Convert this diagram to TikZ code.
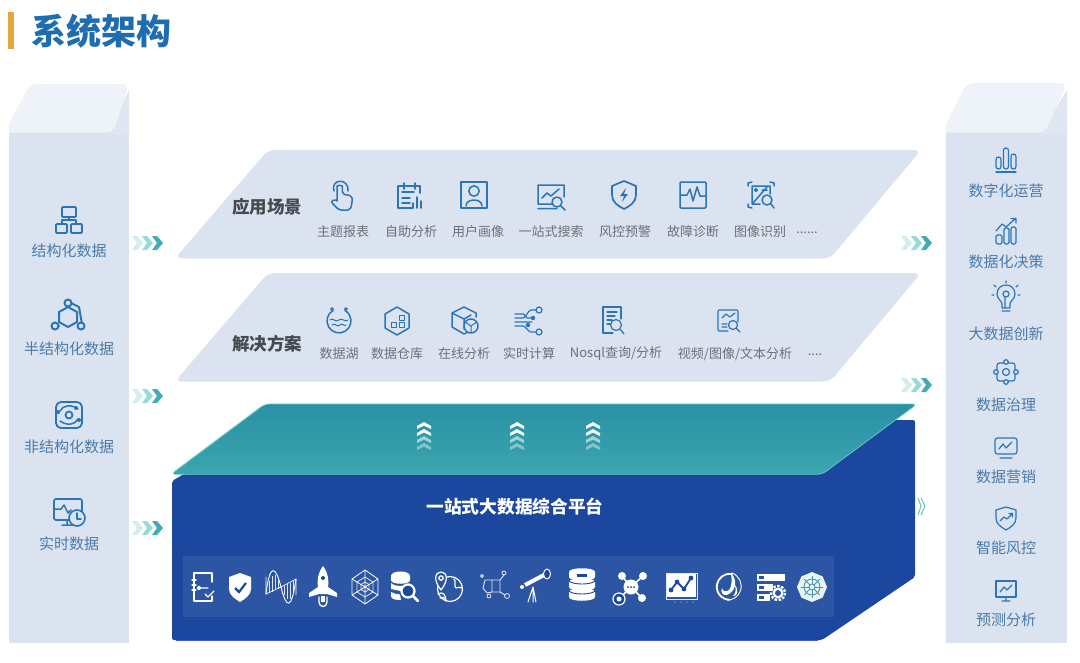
\documentclass[tikz,border=0pt]{standalone}
\usepackage{fontspec}
\setmainfont{Noto Sans CJK SC}
\usetikzlibrary{calc}
\definecolor{bandc}{HTML}{DBE3F0}
\definecolor{topc}{HTML}{EEF2F9}
\definecolor{sidec}{HTML}{E1E7F2}
\definecolor{icb}{HTML}{2A75B5}
\definecolor{colt}{HTML}{4A7BA8}
\definecolor{bandt}{HTML}{6B7178}
\definecolor{headt}{HTML}{454A50}
\definecolor{titlec}{HTML}{1F6DB1}
\definecolor{barc}{HTML}{E5A63F}
\definecolor{platc}{HTML}{1C479F}
\definecolor{stripc}{HTML}{2C55A3}
\definecolor{tealt}{HTML}{2A90A4}
\definecolor{tealb}{HTML}{3BA6AE}
\definecolor{teale}{HTML}{62C6C4}
\tikzset{
 icon/.style={draw=icb,line width=1.5pt,line cap=round,line join=round},
 wic/.style={draw=white,line width=1.3pt,line cap=round,line join=round},
 wthin/.style={draw=white,line width=.5pt,opacity=.85},
 col/.style={font=\fontsize{15}{15}\selectfont,text=colt,inner sep=0pt},
 bandl/.style={font=\fontsize{13}{13}\selectfont,text=bandt,inner sep=0pt},
 headl/.style={font=\fontsize{17.5}{17.5}\selectfont\bfseries,text=headt,inner sep=0pt},
 chev3/.pic={
  \fill[teale!30] (0,-7)--(5,-7)--(11,0)--(5,7)--(0,7)--(5,0)--cycle;
  \fill[teale!65] (10,-7)--(15,-7)--(21,0)--(15,7)--(10,7)--(15,0)--cycle;
  \fill[teale!20!tealb] (20,-7)--(25,-7)--(31,0)--(25,7)--(20,7)--(25,0)--cycle;},
 chevup/.pic={
  \foreach \yy/\op in {0/1,7/.95,14/.55,21/.4}
   \fill[white,opacity=\op] (-7,\yy+3)--(0,\yy-1)--(7,\yy+3)--(7,\yy+6)--(0,\yy+2.5)--(-7,\yy+6)--cycle;},
 % left
 lorg/.pic={\draw[icon,line width=1.8pt,rounded corners=1pt] (-7,-13) rectangle (7,-3) (-13,4) rectangle (-2,13) (2,4) rectangle (13,13);
  \draw[icon,line width=1.8pt] (0,-3)--(0,0) (-7,4)--(-7,0)--(7,0)--(7,4);},
 lhex/.pic={\draw[icon,line width=2pt] (0,-10)--(9,-5)--(9,5)--(0,10)--(-9,5)--(-9,-5)--cycle;
  \draw[icon,line width=2pt] (3,-14)--(11,-10)--(14,7) (-9,9)--(-13,9);
  \foreach \p in {(0,-14),(-13,9),(13,9)}\draw[icon,line width=2pt,fill=bandc] \p circle[radius=3.5];},
 latom/.pic={\draw[icon,line width=1.8pt,rounded corners=5pt] (-13,-13) rectangle (13,13);
  \draw[icon,line width=1.8pt] (0,0) circle[radius=3.5];
  \draw[icon] (-9,-4)..controls (-6,-10) and (2,-11)..(9,-6) (9,4)..controls (6,10) and (-2,11)..(-9,6);
  \fill[icb] (-11,-3) circle[radius=2] (7,-7) circle[radius=2] (10,5) circle[radius=2];},
 lmon/.pic={\draw[icon,line width=1.6pt,rounded corners=1.5pt] (-15,-13)--(13,-13)--(13,8)--(-15,8)--cycle;
  \draw[icon] (-15,-3)--(-8,-3)--(-5,-7)--(-1,1)--(2,-2) (-7,13)--(5,13) (-2,8)--(-2,13);
  \draw[icon,line width=1.6pt,fill=bandc] (8,6) circle[radius=8];
  \draw[icon] (8,1)--(8,7)--(12,7);},
 % row 1
 ihand/.pic={\draw[icon] (-8,-5)..controls (-12,-17) and (7,-19)..(6,-5);
  \draw[icon,rounded corners=2pt] (-5,5)--(-5,-8) arc(180:360:2.7)--(.4,-2)--(10,0)--(10,8)--(8,14)--(-3,14)--(-11,6)--(-8,3)--(-5,5);},
 ical/.pic={\draw[icon] (-12,-9)--(-12,13)--(3,13) (-12,-9)--(10,-9)--(10,-2) (-6,-12)--(-6,-6) (5,-12)--(5,-6) (-8,-3)--(4,-3) (-8,3)--(0,3) (-8,8)--(0,8) (3,13)--(3,8) (7,13)--(7,2) (11,13)--(11,6);},
 iuser/.pic={\draw[icon] (-13,-13) rectangle (13,13); \draw[icon] (0,-4) circle[radius=5.2];
  \draw[icon] (-8,11)..controls (-8,3) and (8,3)..(8,11);},
 iscr/.pic={\draw[icon] (-13,-11)--(13,-11)--(13,1) (7,8)--(-13,8)--(-13,-11) (-13,12.5)--(6,12.5) (-9,2)--(-4,-3)--(0,0)--(8,-7);
  \draw[icon,fill=bandc] (6,6) circle[radius=5]; \draw[icon] (10,10)--(14,14);},
 ishd/.pic={\draw[icon,line width=1.7pt] (0,-14)--(12,-9)--(12,0)..controls (12,7) and (6,11)..(0,14)..controls (-6,11) and (-12,7)..(-12,0)--(-12,-9)--cycle;
  \fill[icb] (2,-7)--(-4,1)--(0,1)--(-2,7)--(4,-1)--(0,-1)--cycle;},
 ipul/.pic={\draw[icon,rounded corners=1pt] (-13,-13) rectangle (13,13);
  \draw[icon] (-13,0)--(-6,0)--(-3,-6)--(0,6)--(4,-8)--(7,1)--(13,1);},
 iimg/.pic={\draw[icon] (-13,-9)--(-13,-12)--(-9,-13) (9,-13)--(13,-12)--(13,-9) (-13,9)--(-13,12)--(-9,13);
  \draw[icon] (-9,-9)--(9,-9)--(9,-1) (-1,9)--(-9,9)--(-9,-9) (-8,8)--(6,-8);
  \draw[icon] (-5,-5) circle[radius=1.3] (1,-5)--(6,-5);
  \draw[icon,fill=bandc] (6,5) circle[radius=5]; \draw[icon] (10,9)--(13,13);},
 % row 2
 ilake/.pic={\draw[icon] (-6,-10.5) arc(240:-60:12);
  \draw[icon,line width=1pt] (-9,-1)..controls (-6,-4) and (-4,2)..(0,-1)..controls (3,-4) and (6,2)..(9,-1) (-7,4)..controls (-4,1) and (-2,7)..(1,4)..controls (3,1) and (5,6)..(7,4);
  \draw[icon,line width=1pt] (-7,-12) circle[radius=1.4] (7,-12) circle[radius=1.4];},
 iwh/.pic={\draw[icon] (0,-14)--(12,-7)--(12,7)--(0,14)--(-12,7)--(-12,-7)--cycle;
  \draw[icon,line width=1pt] (-6,1) rectangle (-1,6) (2,1) rectangle (7,6) (2,-6) rectangle (7,-1);},
 icube/.pic={\draw[icon] (-1,-14)--(-13,-8)--(-13,6)--(-1,13)--(3,11) (-1,-14)--(11,-8)--(11,-4) (-13,-8)--(-1,-2)--(-1,8) (-1,-2)--(6,-6);
  \draw[icon,fill=bandc] (6,5) circle[radius=7]; \draw[icon,line width=1pt] (6,5)--(6,11) (6,5)--(1,1.5) (6,5)--(11,1.5);},
 iflow/.pic={\draw[icon,line width=1.2pt] (-13,-3)--(-5,-3) ..controls (-2,-3) and (0,-11)..(3,-11)--(8,-11) (-13,1)--(4,1) (-13,5)--(-5,5)..controls (-2,5) and (0,11)..(3,11)--(8,11) (-13,-7)--(-5,-7)..controls (-3,-7) and (-3,-3)..(0,-3)--(6,-3);
  \draw[icon,line width=1.2pt,fill=bandc] (11,-11) circle[radius=3] (11,11) circle[radius=3];
  \fill[icb] (5,-3) circle[radius=2.2] (0,4) circle[radius=2.2];},
 idoc/.pic={\draw[icon,line width=1.2pt] (8,-11)--(8,-14)--(-10,-14)--(-10,12)--(0,12) (8,-11)--(8,-2) (-6,-9)--(4,-9) (-6,-5)--(2,-5) (-6,-1)--(-1,-1) (-6,3)--(-3,3);
  \draw[icon,line width=1.2pt,fill=bandc] (3,4) circle[radius=5.5]; \draw[icon,line width=1.2pt] (7,8)--(11,13);},
 idoc2/.pic={\draw[icon,line width=1.2pt,rounded corners=1pt] (9,1)--(9,-11)--(-11,-11)--(-11,10)--(-1,10);
  \draw[icon,line width=1.2pt] (-7,-3)--(-3,-7)--(1,-4)--(6,-8) (-7,3)--(-2,3) (-7,6)--(-2,6);
  \draw[icon,line width=1.2pt,fill=bandc] (4,4) circle[radius=4.5]; \draw[icon,line width=1.2pt] (7,7)--(11,11);},
 % right
 rbars/.pic={\draw[icon,line width=1.2pt,rounded corners=2.5pt] (-10,9) rectangle (-5,-3) (-2.5,9) rectangle (2.5,-12) (5,9) rectangle (10,-6);
  \draw[icon,line width=1.2pt] (-10,12)--(10,12);},
 rgrow/.pic={\draw[icon,line width=1.2pt,rounded corners=1.5pt] (-10,13) rectangle (-4,4) (-2,13) rectangle (3,-3) (5,13) rectangle (10,-4);
  \draw[icon,line width=1.2pt] (-10,0)--(-4,-7)--(0,-4)--(9,-12) (5,-12.5)--(10,-12.5)--(10,-8);},
 rbulb/.pic={\draw[icon,line width=1.2pt] (-4,9)--(-4,5)..controls (-4,2) and (-9,0)..(-9,-5)..controls (-9,-17) and (9,-17)..(9,-5)..controls (9,0) and (4,2)..(4,5)--(4,9)--cycle (-4,12)--(4,12) (-1,-2)--(-1,9);
  \draw[icon,line width=1.2pt] (0,-5) circle[radius=3];
  \draw[icon,line width=1.2pt] (0,-16)--(0,-18) (-10,-12)--(-12,-14) (10,-12)--(12,-14) (-12,-4)--(-14,-4) (12,-4)--(14,-4);},
 rgear/.pic={\draw[icon,line width=1.2pt,rounded corners=2.5pt] (-9,-9) rectangle (9,9);
  \draw[icon,line width=1.2pt] (0,0) circle[radius=3.5];
  \draw[icon,line width=1.2pt,fill=bandc] (0,-10) circle[radius=2.3] (0,10) circle[radius=2.3] (-10,0) circle[radius=2.3] (10,0) circle[radius=2.3];},
 rmon/.pic={\draw[icon,line width=1.2pt,rounded corners=2.5pt] (-11,-9) rectangle (11,7);
  \draw[icon,line width=1.2pt] (-6,11)--(6,11) (-7,2)--(-3,-3)--(0,1)--(6,-5);},
 rshd/.pic={\draw[icon,line width=1.2pt] (0,-11)--(10,-8)--(10,0)..controls (10,6) and (5,9)..(0,12)..controls (-5,9) and (-10,6)..(-10,0)--(-10,-8)--cycle;
  \draw[icon,line width=1.2pt] (-6,3)--(-2,-1)--(1,1)--(6,-4) (3,-4.5)--(6.5,-4.5)--(6.5,-1);},
 rscr/.pic={\draw[icon,line width=1.3pt] (-10,-9) rectangle (10,7); \draw[icon,line width=1.3pt] (0,7)--(0,11) (-4,11)--(4,11) (-6,2)--(-2,-3)--(1,0)--(6,-5);},
 % bottom
 b1/.pic={\draw[wic] (9,-5)--(9,-14)--(-9,-14)--(-9,14)--(9,14)--(9,9) (-11,-7)--(-7,-7) (-11,-2)--(-7,-2) (-11,3)--(-7,3);
  \draw[wic] (-4,1) circle[radius=1.6] (-2,1)--(5,1) (2,7)--(5,10)--(11,4);},
 b2/.pic={\fill[white] (0,-14)--(11,-10)--(11,2)..controls (11,8) and (5,12)..(0,15)..controls (-5,12) and (-11,8)..(-11,2)--(-11,-10)--cycle;
  \draw[platc,line width=2.2pt] (-5,1)--(-1,5)--(6,-4);},
 b3/.pic={\draw[wic,line width=.9pt] (-15,7)..controls (-11,-26) and (-5,-20)..(0,0)..controls (5,20) and (10,26)..(15,-8);
  \draw[wic,line width=.7pt] (-15,7)--(0,0)--(15,-8) (-15,-10)--(-15,7) (15,-8)--(15,8);
  \foreach \xx/\yy in {-12/-6,-9/-11,-6/-12,-3/-7,3/8,6/12,9/12,12/6}\draw[wthin] (\xx,{\xx*-.5})--(\xx,\yy);},
 b4/.pic={\fill[white] (0,-21)..controls (5,-14) and (6,-8)..(5,0)--(14,6)--(14,10)--(4,7)--(-4,7)--(-14,10)--(-14,6)--(-5,0)..controls (-6,-8) and (-5,-14)..(0,-21)--cycle;
  \fill[platc] (0,-9) circle[radius=2];
  \draw[wic] (-4,10)--(-4,15)..controls (-4,21) and (4,21)..(4,15)--(4,10);
  \fill[white] (-2,9) rectangle (2,15);},
 b5/.pic={\draw[wic,line width=.8pt] (0,-17)--(13,-8)--(13,8)--(0,17)--(-13,8)--(-13,-8)--cycle (0,-17)--(0,17) (-13,-8)--(13,8) (13,-8)--(-13,8);
  \draw[wthin,line width=.8pt] (0,-10)--(8,-5)--(8,5)--(0,10)--(-8,5)--(-8,-5)--cycle (0,-5)--(4,-2.5)--(4,2.5)--(0,5)--(-4,2.5)--(-4,-2.5)--cycle;},
 b6/.pic={\fill[white] (-13,-11)..controls (-13,-17) and (6,-17)..(6,-11)--(6,-7)..controls (6,-2) and (-13,-2)..(-13,-7)--cycle;
  \fill[white] (-13,-4)..controls (-9,0) and (2,0)..(6,-4)--(-3,4)--(-13,2)--cycle;
  \fill[white] (-13,5)..controls (-10,7) and (-7,7)..(-4,7.5)--(-3,13)..controls (-6,13) and (-13,13)..(-13,9)--cycle;
  \draw[wic,line width=2.2pt,fill=platc] (4,4) circle[radius=6.5]; \draw[wic,line width=2.6pt] (9,9)--(14,14);},
 b7/.pic={\draw[wic,line width=1.2pt] (2,2) circle[radius=12.5];
  \draw[wic,line width=1.2pt] (-5,-11)..controls (-9,-7) and (-9,-4)..(-7,2);
  \draw[wic,line width=1.2pt,fill=stripc] (-7,3)..controls (-15,-7) and (-13,-15)..(-7,-15)..controls (-1,-15) and (1,-7)..(-7,3)--cycle;
  \draw[wic,line width=1.2pt] (-7,-9) circle[radius=2.2];
  \draw[wic,line width=1.2pt] (-10,7)..controls (-5,4) and (-2,8)..(-2,14) (-8,11)..controls (-6,10) and (-4,10)..(-2,12) (6,-8)..controls (9,-5) and (5,-2)..(8,1)..controls (10,0) and (12,0)..(14,1);},
 b8/.pic={\draw[wic,line width=.9pt,opacity=.85] (-2,-7) rectangle (6,5) (-2,-7)--(-9,-7)--(-11,1)--(-7,6)--(-2,5) (6,-7)--(10,-12) (6,5)--(11,8);
  \draw[wic,line width=.8pt,opacity=.85] (10,-14) circle[radius=2] (13,9) circle[radius=2.5] (-12,-11) circle[radius=1.5] (-5,9) circle[radius=2];},
 b9/.pic={\draw[wic,line width=4pt,line cap=butt] (-11,-2)--(8,-12);
  \draw[wic,line width=1pt,fill=platc] (11,-13) ellipse[x radius=3.5,y radius=5];
  \draw[wic,line width=1pt] (-3,0)--(-8,15) (-3,0)--(0,15) (-3,0)--(-3,15);
  \fill[white] (-14,0) circle[radius=2];},
 b10/.pic={\foreach \yy in {-11,-1,9}{\fill[white] (-13,\yy-4)..controls (-13,\yy-9) and (13,\yy-9)..(13,\yy-4)--(13,\yy+1)..controls (13,\yy+6) and (-13,\yy+6)..(-13,\yy+1)--cycle;}
  \draw[platc,line width=.9pt] (-13,-6)..controls (-9,-2) and (9,-2)..(13,-6) (-13,4)..controls (-9,8) and (9,8)..(13,4);
  \fill[platc] (-5,-13) rectangle (5,-10.5);},
 b11/.pic={\draw[wic,line width=1.6pt] (0,0)--(-9,-11) (0,0)--(12,-11) (0,0)--(11,11) (0,0)--(-11,11);
  \fill[white] (-9,-11) circle[radius=4] (12,-11) circle[radius=4] (11,11) circle[radius=4] (0,0) circle[radius=7.5];
  \draw[wic,line width=1.2pt,fill=platc] (-12,12) circle[radius=6]; \fill[white] (-12,12) circle[radius=2.5];
  \fill[platc] (-3,0) circle[radius=1] (0,0) circle[radius=1] (3,0) circle[radius=1];},
 b12/.pic={\fill[white] (-14,-13) rectangle (15,10);
  \draw[wthin] (-15,-14) rectangle (16,12);
  \draw[platc,line width=1.8pt] (-10,3)--(-4,-5)--(3,2)--(10,-9);
  \fill[platc] (-10,3) circle[radius=2.4] (-4,-5) circle[radius=2.4] (3,2) circle[radius=2.4] (10,-9) circle[radius=2.4];
  \foreach \xx in {-6,0,6,12}\fill[white] (\xx,15) circle[radius=.5];},
 b13/.pic={\draw[wic,line width=1.8pt] (3,-13) arc(-80:-270:13);
  \draw[wic,line width=.9pt] (3,-14) arc(-70:90:14);
  \fill[white] (2,-14)..controls (8,-8) and (8,4)..(-2,8)..controls (-6,9) and (-9,5)..(-7,1)..controls (-6,5) and (-3,5)..(0,3)..controls (3,0) and (3,-8)..(2,-14)--cycle;
  \fill[white] (5,-3)..controls (11,3) and (8,10)..(4,9)..controls (8,5) and (7,1)..(5,-3)--cycle;},
 b14/.pic={\foreach \yy/\xx in {-13/14,-3/2,7/-1}\fill[white] (-14,\yy) rectangle (\xx,\yy+6.5);
  \foreach \yy in {-12,-2,8}\fill[stripc] (-12,\yy+1.2) rectangle (-7,\yy+3.5);
  \draw[white,line width=2.4pt,dash pattern=on 2.4pt off 1.6pt] (7,6) circle[radius=7];
  \draw[white,line width=2.2pt] (7,6) circle[radius=4.3];},
 b15/.pic={\fill[white!85!teale] (0,-15)--(10.6,-10.6)--(15,0)--(10.6,10.6)--(0,15)--(-10.6,10.6)--(-15,0)--(-10.6,-10.6)--cycle;
  \draw[teale!60!platc,line width=.9pt] (0,0) circle[radius=8] (0,0) circle[radius=3];
  \foreach \a in {0,45,...,315}\draw[teale!60!platc,line width=.8pt] (\a:3)--(\a:11);},
}
\begin{document}
\begin{tikzpicture}[x=1pt,y=-1pt]
\useasboundingbox (0,0) rectangle (1080,662);
\fill[white] (0,0) rectangle (1080,662);
% title
\fill[barc] (8,12) rectangle (14,49);
\node[font=\fontsize{35}{35}\selectfont\bfseries,text=titlec,inner sep=0pt] (title) at (101,31) {系统架构};
% left column
\fill[bandc] (9,130) rectangle (129,643);
\fill[sidec] (129,90)--(129,135)--(108,135)--cycle;
\fill[topc] (9,132.5)--(9,124)[rounded corners=7pt]--(30,84)--(129,84)--(113,132.5)[sharp corners]--cycle;
% right column
\fill[bandc] (946,130) rectangle (1067,643);
\fill[sidec] (1067,90)--(1067,135)--(1040,135)--cycle;
\fill[topc] (946,132.5)--(946,124)[rounded corners=7pt]--(967,83)--(1067,83)--(1045,132.5)[sharp corners]--cycle;
% bands
\fill[bandc,rounded corners=7pt] (175,258.5)--(268,150)--(921,150)--(830,258.5)--cycle;
\fill[bandc,rounded corners=7pt] (175,381.5)--(268,273)--(921,273)--(830,381.5)--cycle;
% platform
\fill[platc,rounded corners=2pt] (172,640)--(172,481)--(184,474)--(822,474)--(889,420)--(915,420)--(915,577)--(822,640)--cycle;
\draw[blue!30!platc!80!white,line width=.8pt] (176,640.3)--(818,640.3);
\fill[stripc] (183,556) rectangle (834,617);
\shade[top color=tealt,bottom color=tealb,draw=teale,line width=.8pt,rounded corners=5pt] (171,474.3)--(265,404)--(917,404)--(822,474.3)--cycle;
% arrows
\pic at (132,243) {chev3}; \pic at (132,396) {chev3}; \pic at (132,528) {chev3};
\pic at (901,243) {chev3}; \pic at (901,385) {chev3};
\draw[teale,line width=1pt] (918,498)--(921,506)--(918,515) (921,498)--(925,506)--(921,515);
\foreach \xx in {424,517,593}\pic at (\xx,423) {chevup};
% left labels
\node[col] (l1) at (69,251) {结构化数据};
\node[col] (l2) at (69,349) {半结构化数据};
\node[col] (l3) at (69,447) {非结构化数据};
\node[col] (l4) at (69,544) {实时数据};
\pic at (69,220) {lorg}; \pic at (68,317) {lhex}; \pic at (69,415) {latom}; \pic at (69,512) {lmon};
% right labels
\node[col] (r1) at (1006,191) {数字化运营};
\node[col] (r2) at (1006,262) {数据化决策};
\node[col] (r3) at (1006,334) {大数据创新};
\node[col] (r4) at (1006,405) {数据治理};
\node[col] (r5) at (1006,477) {数据营销};
\node[col] (r6) at (1006,548) {智能风控};
\node[col] (r7) at (1006,620) {预测分析};
\pic at (1006,160) {rbars}; \pic at (1006,231) {rgrow}; \pic at (1006,299) {rbulb};
\pic at (1006,372) {rgear}; \pic at (1006,447) {rmon}; \pic at (1006,518) {rshd}; \pic at (1006,590) {rscr};
% band 1
\node[headl] (h1) at (267,207) {应用场景};
\node[bandl] (a1) at (343,232) {主题报表};
\node[bandl] (a2) at (411,232) {自助分析};
\node[bandl] (a3) at (478,232) {用户画像};
\node[bandl] (a4) at (551,232) {一站式搜索};
\node[bandl] (a5) at (625,232) {风控预警};
\node[bandl] (a6) at (693,232) {故障诊断};
\node[bandl] (a7) at (760,232) {图像识别};
\node[bandl] (a8) at (807,233) {......};
\pic at (342,196) {ihand}; \pic at (410,195) {ical}; \pic at (474,195) {iuser}; \pic at (551,196) {iscr};
\pic at (624,195) {ishd}; \pic at (693,195) {ipul}; \pic at (761,195) {iimg};
% band 2
\node[headl] (h2) at (267,344) {解决方案};
\node[bandl] (b1) at (339,354) {数据湖};
\node[bandl] (b2) at (397,354) {数据仓库};
\node[bandl] (b3) at (464,354) {在线分析};
\node[bandl] (b4) at (529,354) {实时计算};
\node[bandl] (b5) at (616,354) {Nosql查询/分析};
\node[bandl] (b6) at (735,354) {视频/图像/文本分析};
\node[bandl] (b7) at (815,355) {....};
\pic at (339,321) {ilake}; \pic at (397,321) {iwh}; \pic at (465,321) {icube}; \pic at (528,321) {iflow};
\pic at (613,321) {idoc}; \pic at (729,321) {idoc2};
% platform text and icons
\node[font=\fontsize{17.7}{17.7}\selectfont\bfseries,text=white,inner sep=0pt] (plat) at (515,507) {一站式大数据综合平台};
\pic at (203,587) {b1}; \pic at (240,587) {b2}; \pic at (281,587) {b3}; \pic at (323,587) {b4}; \pic at (365,587) {b5};
\pic at (404,587) {b6}; \pic at (448,587) {b7}; \pic at (494,587) {b8}; \pic at (536,587) {b9}; \pic at (582,587) {b10};
\pic at (631,587) {b11}; \pic at (681,587) {b12}; \pic at (729,587) {b13}; \pic at (771,587) {b14}; \pic at (812,587) {b15};
\end{tikzpicture}
\end{document}
